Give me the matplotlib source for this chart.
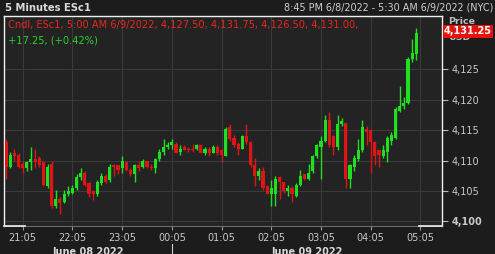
import matplotlib
matplotlib.use("Agg")
import matplotlib.pyplot as plt
from matplotlib.transforms import blended_transform_factory

# 5 minute bars, 20:45 (6/8) .. 05:00 (6/9)
opens = [4113.0, 4109.0, 4111.25, 4111.0, 4109.5, 4108.75, 4109.75, 4110.25, 4110.5, 4109.75,
         4105.75, 4109.5, 4102.5, 4103.75, 4103.25, 4104.5, 4104.75, 4105.5, 4107.25, 4108.0,
         4106.25, 4105.0, 4104.5, 4106.25, 4107.5, 4106.75, 4109.25, 4109.25, 4108.75, 4109.75,
         4108.5, 4107.75, 4109.25, 4109.0, 4110.0, 4109.0, 4108.75, 4110.25, 4111.5, 4112.25,
         4112.5, 4112.75, 4111.5, 4112.25, 4112.0, 4112.0, 4112.0, 4112.5, 4111.25, 4112.0,
         4111.25, 4112.25, 4111.75, 4110.75, 4115.5, 4113.75, 4112.75, 4112.0, 4114.0, 4113.0,
         4109.25, 4107.5, 4108.25, 4105.75, 4104.5, 4104.5, 4107.25, 4106.5, 4105.0, 4105.5,
         4104.25, 4106.0, 4107.75, 4107.0, 4108.25, 4110.75, 4112.25, 4113.25, 4116.75, 4114.0,
         4112.25, 4116.0, 4116.25, 4107.0, 4109.0, 4110.25, 4111.75, 4115.25, 4115.0, 4113.0,
         4111.75, 4110.75, 4111.5, 4113.25, 4113.75, 4118.25, 4119.0, 4119.5, 4126.75, 4127.5]
highs = [4113.5, 4111.5, 4112.0, 4111.25, 4110.0, 4110.0, 4112.25, 4112.0, 4110.75, 4110.0,
         4109.5, 4110.0, 4105.25, 4104.0, 4105.25, 4105.75, 4106.0, 4107.75, 4108.75, 4108.25,
         4106.5, 4105.25, 4106.75, 4108.0, 4107.75, 4109.5, 4109.5, 4109.25, 4110.75, 4110.0,
         4108.75, 4109.5, 4110.0, 4110.25, 4110.0, 4109.5, 4110.5, 4112.0, 4113.5, 4113.0,
         4113.5, 4113.0, 4112.5, 4112.5, 4112.25, 4112.75, 4112.75, 4112.75, 4112.25, 4112.25,
         4112.5, 4112.5, 4112.0, 4115.5, 4116.0, 4114.25, 4113.0, 4114.25, 4116.0, 4113.25,
         4110.5, 4108.75, 4109.0, 4106.0, 4106.75, 4107.5, 4107.5, 4106.5, 4106.0, 4105.75,
         4106.25, 4108.5, 4107.75, 4109.5, 4111.0, 4112.75, 4114.0, 4117.5, 4118.0, 4114.25,
         4117.5, 4117.0, 4116.25, 4109.5, 4111.0, 4113.5, 4116.75, 4115.75, 4115.25, 4113.25,
         4111.75, 4112.5, 4114.0, 4114.75, 4118.75, 4122.25, 4120.5, 4127.0, 4130.0, 4131.75]
lows = [4107.0, 4108.75, 4110.0, 4108.75, 4108.0, 4108.25, 4108.5, 4108.75, 4109.0, 4105.75,
        4105.5, 4102.25, 4102.25, 4101.25, 4103.0, 4104.25, 4104.5, 4105.25, 4106.75, 4105.75,
        4104.0, 4103.5, 4104.25, 4106.0, 4106.25, 4106.5, 4107.5, 4107.75, 4108.0, 4108.25,
        4107.5, 4106.5, 4108.25, 4108.75, 4108.75, 4108.5, 4108.0, 4110.0, 4111.0, 4112.0,
        4112.0, 4111.25, 4111.0, 4111.75, 4111.5, 4111.5, 4111.75, 4111.25, 4111.0, 4110.75,
        4111.25, 4111.0, 4109.75, 4110.75, 4113.25, 4112.25, 4111.0, 4112.0, 4112.75, 4109.0,
        4105.75, 4106.75, 4105.25, 4104.5, 4102.5, 4102.5, 4103.75, 4104.75, 4104.25, 4103.25,
        4104.0, 4105.75, 4106.75, 4106.75, 4108.0, 4110.5, 4107.0, 4113.0, 4112.25, 4111.0,
        4111.75, 4115.75, 4105.5, 4105.5, 4108.25, 4110.0, 4111.5, 4112.5, 4108.0, 4109.25,
        4109.0, 4110.5, 4109.75, 4112.5, 4113.5, 4118.0, 4118.5, 4119.25, 4126.25, 4126.5]
closes = [4109.0, 4111.0, 4110.75, 4109.0, 4108.75, 4109.75, 4110.25, 4109.75, 4109.25, 4106.0,
          4109.0, 4102.5, 4103.75, 4103.0, 4104.5, 4105.0, 4105.5, 4107.25, 4108.0, 4106.0,
          4104.5, 4104.5, 4106.5, 4107.5, 4106.5, 4109.0, 4109.0, 4108.5, 4110.0, 4108.5,
          4107.75, 4109.25, 4108.75, 4110.0, 4109.0, 4108.75, 4110.25, 4111.5, 4112.25, 4112.5,
          4113.0, 4111.25, 4112.0, 4111.75, 4111.75, 4111.75, 4112.5, 4111.25, 4112.0, 4111.25,
          4112.25, 4111.25, 4111.0, 4115.25, 4113.5, 4112.5, 4112.0, 4114.0, 4113.0, 4109.25,
          4107.5, 4108.25, 4105.5, 4104.5, 4105.5, 4107.0, 4106.5, 4105.0, 4105.5, 4104.5,
          4106.0, 4107.5, 4107.0, 4108.0, 4110.75, 4112.5, 4113.25, 4116.75, 4112.5, 4112.25,
          4116.0, 4116.5, 4107.0, 4109.25, 4110.5, 4111.75, 4115.5, 4114.75, 4113.0, 4110.75,
          4111.0, 4111.75, 4113.75, 4114.25, 4118.5, 4119.0, 4119.5, 4126.75, 4127.75, 4131.0]

hour_labels = ["21:05", "22:05", "23:05", "00:05", "01:05", "02:05", "03:05", "04:05", "05:05"]
first_tick = 4      # 21:05 is the 5th bar after 20:45
bars_per_hour = 12
price_ticks = [4100, 4105, 4110, 4115, 4120, 4125]
date_labels = ["June 08 2022", "June 09 2022"]

GREEN = "#1fe01f"
RED = "#e01414"
TXT = "#c8c8c8"

plt.rcParams["font.family"] = ["DejaVu Sans"]

fig = plt.figure(figsize=(4.95, 2.54), dpi=100, facecolor="#1c1c1c")
ax = fig.add_axes([4 / 495, 1 - 225.7 / 254, 438 / 495, (225.7 - 16) / 254])
ax.set_facecolor("#232323")

x = list(range(len(opens)))
colors = [GREEN if c >= o else RED for o, c in zip(opens, closes)]
ax.vlines(x, lows, highs, colors=colors, linewidth=1, zorder=3)
bottoms = [min(o, c) for o, c in zip(opens, closes)]
heights = [max(abs(c - o), 0.15) for o, c in zip(opens, closes)]
ax.bar(x, heights, bottom=bottoms, width=0.75, color=colors, linewidth=0, zorder=4)

ax.set_xlim(-0.5, 105.2)
ax.set_ylim(4099.3, 4133.8)

xt = [first_tick + i * bars_per_hour for i in range(len(hour_labels))]
ax.set_xticks(xt)
ax.set_xticklabels(hour_labels)
ax.set_yticks(price_ticks)
ax.set_yticklabels([f"{p:,}" for p in price_ticks])
ax.yaxis.tick_right()
ax.tick_params(axis="x", colors="#9a9a9a", labelcolor=TXT, labelsize=7, length=3, pad=2)
ax.tick_params(axis="y", colors="#bbbbbb", labelcolor=TXT, labelsize=7, length=4, pad=3)
ax.get_yticklabels()[0].set_fontweight("bold")
ax.grid(True, color="#3a3a3a", linewidth=0.8)
ax.set_axisbelow(True)

for s in ["top", "left", "right"]:
    ax.spines[s].set_color("#f0f0f0")
    ax.spines[s].set_linewidth(1)
ax.spines["bottom"].set_color("#6a6a6a")
ax.plot([0, 0.048], [0, 0], color="#f0f0f0", lw=1.2, transform=ax.transAxes, clip_on=False, zorder=6)
ax.plot([0.948, 1], [0, 0], color="#f0f0f0", lw=1.2, transform=ax.transAxes, clip_on=False, zorder=6)

# header
fig.text(5 / 495, 1 - 8 / 254, "5 Minutes ESc1", color="#d8d8d8", fontsize=7.2,
         fontweight="bold", va="center", ha="left")
fig.text(493 / 495, 1 - 8 / 254, "8:45 PM 6/8/2022 - 5:30 AM 6/9/2022 (NYC)", color="#cfcfcf",
         fontsize=6.9, va="center", ha="right")

# legend lines
last = len(opens) - 1
chg = 17.25
legend1 = (f"Cndl, ESc1, 5:00 AM 6/9/2022, {opens[last]:,.2f}, {highs[last]:,.2f}, "
           f"{lows[last]:,.2f}, {closes[last]:,.2f},")
ax.text(0.008, 0.955, legend1, transform=ax.transAxes, color="#e8261e", fontsize=7.1,
        va="center", ha="left")
ax.text(0.008, 0.885, f"+{chg:.2f}, (+{chg / (closes[last] - chg) * 100:.2f}%)",
        transform=ax.transAxes, color="#2bd12b", fontsize=7.1, va="center", ha="left")

# price header and current price box
fig.text(448 / 495, 1 - 21 / 254, "Price", color="#bdbdbd", fontsize=6.8, fontweight="bold",
         va="center", ha="left")
fig.text(448 / 495, 1 - 38 / 254, "USD", color="#bdbdbd", fontsize=6.8, fontweight="bold",
         va="center", ha="left")
fig.text(444 / 495, 1 - 31.5 / 254, "4,131.25", color="white", fontsize=7, fontweight="bold",
         va="center", ha="left",
         bbox=dict(boxstyle="square,pad=0.12", facecolor="#e8120c", edgecolor="none"))

# date row
tr = blended_transform_factory(ax.transData, ax.transAxes)
ax.text(19.8, -0.1, date_labels[0], transform=tr, color="#d8d8d8", fontsize=7,
        fontweight="bold", ha="center", va="top")
ax.text(72.6, -0.1, date_labels[1], transform=tr, color="#d8d8d8", fontsize=7,
        fontweight="bold", ha="center", va="top")
ax.plot([xt[3], xt[3]], [-0.085, -0.15], color="#cfcfcf", lw=0.8, transform=tr, clip_on=False)

fig.savefig("out.png", dpi=100, facecolor=fig.get_facecolor())
